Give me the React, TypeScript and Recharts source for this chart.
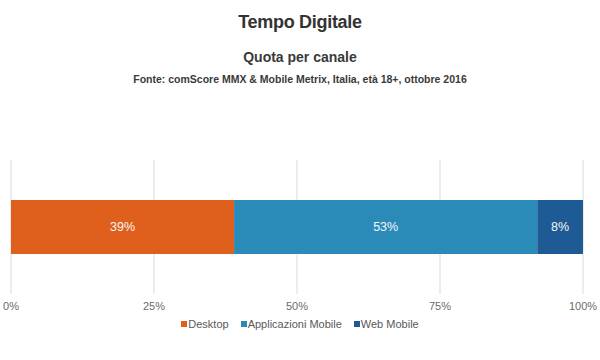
import { BarChart, Bar, XAxis, YAxis, CartesianGrid, Legend, LabelList } from "recharts";

const categories = ["Tempo Digitale"];
const seriesNames = ["Desktop", "Applicazioni Mobile", "Web Mobile"];
const seriesKeys = ["desktop", "app", "web"];
const desktop = [39];
const app = [53];
const web = [8];
const xTicks = [0, 25, 50, 75, 100];
const colors = ["#df5f1d", "#2a8ab8", "#1e5b94"];

const data = categories.map((name, i) => ({
  name,
  desktop: desktop[i],
  app: app[i],
  web: web[i],
}));

const font = '"Liberation Sans", Arial, sans-serif';

function LegendContent() {
  return (
    <div style={{ display: "flex", justifyContent: "center", fontFamily: font, fontSize: 11, color: "#595959" }}>
      {seriesNames.map((n, i) => (
        <div key={n} style={{ display: "flex", alignItems: "center", marginRight: i < seriesNames.length - 1 ? 12 : 0 }}>
          <span style={{ display: "inline-block", width: 6, height: 6, background: colors[i], marginRight: 1 }} />
          <span>{n}</span>
        </div>
      ))}
    </div>
  );
}

export default function App() {
  return (
    <div style={{ position: "fixed", left: 0, top: 0, width: 600, height: 360, background: "#fff", fontFamily: font }}>
      <div style={{ position: "absolute", top: 12, width: 600, textAlign: "center", fontSize: 18, fontWeight: "bold", color: "#333", letterSpacing: -0.3 }}>
        Tempo Digitale
      </div>
      <div style={{ position: "absolute", top: 49, width: 600, textAlign: "center", fontSize: 14, fontWeight: "bold", color: "#3a3a3a" }}>
        Quota per canale
      </div>
      <div style={{ position: "absolute", top: 73, width: 600, textAlign: "center", fontSize: 10.5, fontWeight: "bold", color: "#3a3a3a" }}>
        Fonte: comScore MMX &amp; Mobile Metrix, Italia, età 18+, ottobre 2016
      </div>
      <BarChart
        width={600}
        height={360}
        data={data}
        layout="vertical"
        margin={{ top: 160, right: 17, left: 11, bottom: 36 }}
        barSize={54}
      >
        <CartesianGrid horizontal={false} stroke="#d9d9d9" />
        <XAxis
          type="number"
          domain={[0, 100]}
          ticks={xTicks}
          tickFormatter={(v) => `${v}%`}
          axisLine={false}
          tickLine={false}
          height={30}
          tick={{ fill: "#6b6b6b", fontSize: 11, fontFamily: font }}
        />
        <YAxis type="category" dataKey="name" hide />
        <Legend verticalAlign="middle" align="center" wrapperStyle={{ top: 318, left: 0, width: 600 }} content={<LegendContent />} />
        {seriesKeys.map((k, i) => (
          <Bar key={k} dataKey={k} name={seriesNames[i]} stackId="a" fill={colors[i]} isAnimationActive={false}>
            <LabelList
              dataKey={k}
              position="center"
              formatter={(v: number) => `${v}%`}
              fill="#f7f7f7"
              fontSize={12.5}
              fontFamily={font}
            />
          </Bar>
        ))}
      </BarChart>
    </div>
  );
}
